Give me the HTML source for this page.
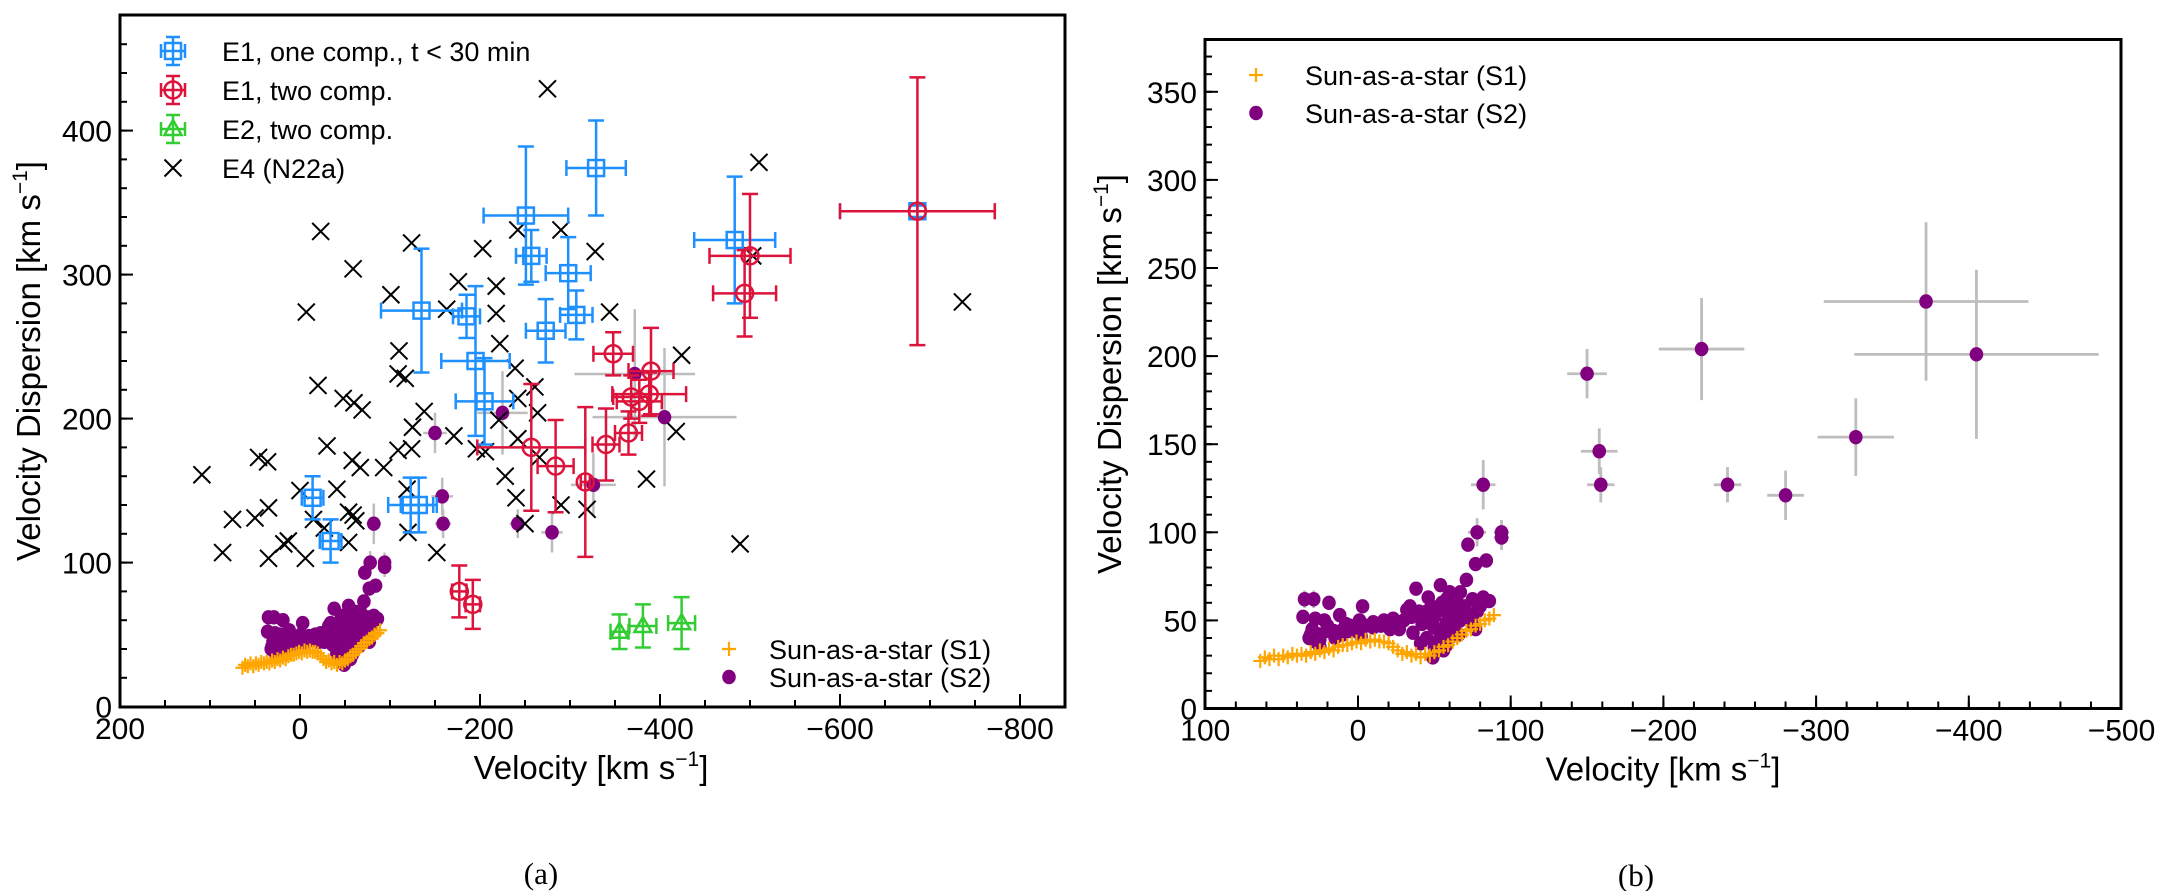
<!DOCTYPE html>
<html><head><meta charset="utf-8"><style>
html,body{margin:0;padding:0;background:#fff;}
svg{display:block;font-family:"Liberation Sans",sans-serif;}
</style></head><body>
<svg id="fig" width="2170" height="891" viewBox="0 0 2170 891" xmlns="http://www.w3.org/2000/svg">
<g id="pa"></g>
<g id="pb"></g>
</svg>
<script>
// ---- Panel (a) E1 one comp. (blue squares)
const blueV = [-329,-251,-257,-298,-135,-185,-307,-273,-195,-205,-14,-34,-123,-132,-483,-686];
const blueS = [374,341,313,301,275,271,272,261,240,212,145,115,140,140,324,344];
const blueXe = [33,47,17,25,45,15,18,22,38,32,12,12,25,20,45,86];
const blueYe = [33,48,18,25,43,15,17,22,52,30,15,15,19,19,44,4];
// ---- E1 two comp. (red circles)
const redV = [-686,-500,-494,-348,-390,-368,-388,-377,-365,-340,-257,-284,-317,-177,-192];
const redS = [344,313,287,245,233,215,217,212,190,182,180,167,156,80,71];
const redXe = [86,45,35,22,25,20,41,25,15,15,60,20,5,8,8];
const redYe = [93,43,30,15,30,15,15,15,15,25,44,32,52,18,17];
// ---- E2 two comp. (green triangles)
const greenV = [-355,-381,-424];
const greenS = [52,56,58];
const greenXe = [10,15,15];
const greenYe = [12,15,18];
// ---- E4 (N22a) crosses
const e4V = [-275,-23,-124,-59,-203,-242,-290,-328,-101,-7,-176,-218,-163,-218,-344,-222,-110,-239,-20,-48,-60,-69,-109,-117,-424,-242,-261,-264,-138,-125,-171,-221,-242,-418,-30,-109,-124,46,36,-58,-67,-93,-196,-206,-266,109,-41,0,-228,-385,-240,35,75,50,-54,-59,-62,-290,-319,-250,-120,-54,86,35,18,13,-6,-152,-489,-27,-119,-15,-510,-736,-503];
const e4S = [429,330,322,304,318,331,331,316,286,274,295,292,276,273,274,252,247,235,223,214,211,206,231,228,244,214,222,204,205,194,188,199,186,191,181,178,179,173,170,171,166,166,179,177,173,161,151,150,160,158,145,138,130,131,135,133,129,140,137,127,121,114,107,103,113,115,103,107,113,124,151,130,378,281,313];
// ---- Sun-as-a-star S2 (purple dots, grey error bars)
const s2V = [-150,-225,-372,-405,-158,-159,-242,-280,-326,-82,-78,-94,-94,-72,-77,-84,-71,35,29,19,36,12,-3,28,20,31,25,16,5,-1,-10,-17,-23,-27,-34,-38,-36,-46,-54,-60,-67,-75,-82,-86,-45,-54,-62,-49,-58,-67,-75,-77,-41,-49,-56,-32,-21,1,25,11,
  30,25,20,15,10,5,0,-5,-10,-15,-20,-25,-30,-35,-40,-42,-45,-48,-50,-52,-55,-58,-60,-63,-65,-68,-70,-72,-74,-78,-80,-45,-50,-52,-55,-60,-58,-62,-66,28,32,22,8,-2];
const s2S = [190,204,231,201,146,127,127,121,154,127,100,100,97,93,82,84,73,62,62,60,52,53,58,51,47,42,39,44,47,50,49,50,51,45,58,68,43,63,70,66,66,62,63,61,55,56,58,47,49,50,47,45,37,29,33,56,45,44,35,44,
  45,42,44,40,42,44,45,47,46,47,48,48,50,52,55,48,50,58,52,45,60,62,55,52,60,55,58,52,50,55,58,40,35,38,42,40,36,45,42,38,40,50,48,41];
const s2Xe = [13,28,67,80,12,9,9,12,25,8,6,5,5,3,3,3,3,4,4,3,3,3,3,3,3,3,3,3,3,3,3,3,3,3,3,3,3,3,3,3,3,3,3,3,3,3,3,3,3,3,3,3,3,3,3,3,3,3,3,3,
  3,3,3,3,3,3,3,3,3,3,3,3,3,3,3,3,3,3,3,3,3,3,3,3,3,3,3,3,3,3,3,3,3,3,3,3,3,3,3,3,3,3,3,3];
const s2Ye = [14,29,45,48,13,10,10,14,22,14,8,7,7,4,4,4,4,5,5,4,3,3,3,3,3,3,3,3,3,3,3,3,3,3,3,3,3,3,3,3,3,3,3,3,3,3,3,3,3,3,3,3,3,3,3,3,3,3,3,3,
  3,3,3,3,3,3,3,3,3,3,3,3,3,3,3,3,3,3,3,3,3,3,3,3,3,3,3,3,3,3,3,3,3,3,3,3,3,3,3,3,3,3,3,3];
// ---- Sun-as-a-star S1 (orange plus)
const s1V = [64,61,58,55,52,49,46,43,40,37,34,31,28,25,22,19,16,13,10,7,4,1,-2,-5,-8,-11,-14,-17,-20,-23,-26,-29,-32,-35,-38,-41,-44,-47,-50,-53,-56,-59,-62,-65,-68,-71,-74,-77,-80,-83,-86,-89];
const s1S = [27,29,28,30,28,30,29,31,30,31,30,32,31,33,32,34,33,35,36,36,37,38,37,39,38,39,38,38,37,35,33,31,32,30,31,29,31,30,32,33,35,36,38,40,42,44,45,47,48,50,51,53];
// ---- ticks
const aXMajor = [200,0,-200,-400,-600,-800];
const aYMajor = [0,100,200,300,400];
const bXMajor = [100,0,-100,-200,-300,-400,-500];
const bYMajor = [0,50,100,150,200,250,300,350];

const NS = 'http://www.w3.org/2000/svg';
function mk(parent, tag, attrs, name){
  const e = document.createElementNS(NS, tag);
  for (const k in attrs) e.setAttribute(k, attrs[k]);
  
  
  parent.appendChild(e);
  return e;
}
const C = {blue:'#1e90ff', red:'#dc143c', green:'#32cd32', orange:'#ffa500', purple:'#800080', grey:'#bdbdbd'};

function errBar(g, x, y, dx, dy, col, cap, w){
  mk(g,'line',{x1:x-dx,y1:y,x2:x+dx,y2:y,stroke:col,'stroke-width':w},'x-error-bar');
  mk(g,'line',{x1:x,y1:y-dy,x2:x,y2:y+dy,stroke:col,'stroke-width':w},'y-error-bar');
  if (cap){
    mk(g,'line',{x1:x-dx,y1:y-cap,x2:x-dx,y2:y+cap,stroke:col,'stroke-width':w},'error-cap');
    mk(g,'line',{x1:x+dx,y1:y-cap,x2:x+dx,y2:y+cap,stroke:col,'stroke-width':w},'error-cap');
    mk(g,'line',{x1:x-cap,y1:y-dy,x2:x+cap,y2:y-dy,stroke:col,'stroke-width':w},'error-cap');
    mk(g,'line',{x1:x-cap,y1:y+dy,x2:x+cap,y2:y+dy,stroke:col,'stroke-width':w},'error-cap');
  }
}
function square(g,x,y,col){ mk(g,'rect',{x:x-8,y:y-8,width:16,height:16,fill:'none',stroke:col,'stroke-width':2.5},'square-marker'); }
function circ(g,x,y,col){ mk(g,'circle',{cx:x,cy:y,r:8.5,fill:'none',stroke:col,'stroke-width':2.5},'circle-marker'); }
function tri(g,x,y,col){ mk(g,'polygon',{points:`${x},${y-9} ${x-8.5},${y+6} ${x+8.5},${y+6}`,fill:'none',stroke:col,'stroke-width':2.5},'triangle-marker'); }
function cross(g,x,y){ const s=8.5;
  mk(g,'path',{d:`M${x-s},${y-s}L${x+s},${y+s}M${x-s},${y+s}L${x+s},${y-s}`,stroke:'#000','stroke-width':2,fill:'none'},'x-marker'); }
function plus(g,x,y){ const s=7;
  mk(g,'path',{d:`M${x-s},${y}L${x+s},${y}M${x},${y-s}L${x},${y+s}`,stroke:C.orange,'stroke-width':2.2,fill:'none'},'plus-marker'); }
function dot(g,x,y){ mk(g,'ellipse',{cx:x,cy:y,rx:6.8,ry:7.2,fill:C.purple},'dot-marker'); }

function axes(g, L, R, T, B, xs, ys, xMaj, xMin, yMaj, yMin, xlab, xlabX, ylabX){
  xMin.forEach(v=>{ const x=xs(v); if(x>L+1&&x<R-1) mk(g,'line',{x1:x,y1:B,x2:x,y2:B-7,stroke:'#000','stroke-width':2},'x-minor-tick'); });
  yMin.forEach(v=>{ const y=ys(v); if(y>T+1&&y<B-1) mk(g,'line',{x1:L,y1:y,x2:L+7,y2:y,stroke:'#000','stroke-width':2},'y-minor-tick'); });
  xMaj.forEach(v=>{ const x=xs(v);
    mk(g,'line',{x1:x,y1:B,x2:x,y2:B-13,stroke:'#000','stroke-width':2},'x-major-tick');
    const t=mk(g,'text',{x:x,y:B+32,'font-size':30,'text-anchor':'middle'},'x-tick-label'); t.textContent=(v<0?'\u2212'+(-v):String(v)); });
  yMaj.forEach(v=>{ const y=ys(v);
    mk(g,'line',{x1:L,y1:y,x2:L+13,y2:y,stroke:'#000','stroke-width':2},'y-major-tick');
    const t=mk(g,'text',{x:L-8,y:y+11,'font-size':30,'text-anchor':'end'},'y-tick-label'); t.textContent=String(v); });
  mk(g,'rect',{x:L,y:T,width:R-L,height:B-T,fill:'none',stroke:'#000','stroke-width':3},'plot-frame');
  const xl=mk(g,'text',{x:xlabX,y:B+72,'font-size':33,'text-anchor':'middle'},'x-axis-title');
  xl.innerHTML='Velocity [km s<tspan dy="-13" font-size="21">\u22121</tspan><tspan dy="13">]</tspan>';
  const cy=(T+B)/2;
  const yl=mk(g,'text',{x:ylabX,y:cy,'font-size':33,'text-anchor':'middle',transform:`rotate(-90 ${ylabX} ${cy})`},'y-axis-title');
  yl.innerHTML='Velocity Dispersion [km s<tspan dy="-13" font-size="21">\u22121</tspan><tspan dy="13">]</tspan>';
}
function rng(a,b,s){const r=[];for(let v=a;v<=b+1e-9;v+=s)r.push(Math.round(v*100)/100);return r;}

// ===== Panel A =====
(function(){
  const g=document.getElementById('pa');
  const L=120,R=1065,T=15,B=707;
  const xs=v=>300-0.9*v, ys=s=>706.6-1.44*s;
  const data=mk(g,'g',{},'panel-a-data');
  s2V.forEach((v,i)=>errBar(data,xs(v),ys(s2S[i]),s2Xe[i]*0.9,s2Ye[i]*1.44,C.grey,0,2.5));
  s2V.forEach((v,i)=>dot(data,xs(v),ys(s2S[i])));
  s1V.forEach((v,i)=>plus(data,xs(v),ys(s1S[i])));
  e4V.forEach((v,i)=>cross(data,xs(v),ys(e4S[i])));
  blueV.forEach((v,i)=>{errBar(data,xs(v),ys(blueS[i]),blueXe[i]*0.9,blueYe[i]*1.44,C.blue,8,2.5);square(data,xs(v),ys(blueS[i]),C.blue);});
  redV.forEach((v,i)=>{errBar(data,xs(v),ys(redS[i]),redXe[i]*0.9,redYe[i]*1.44,C.red,8,2.5);circ(data,xs(v),ys(redS[i]),C.red);});
  greenV.forEach((v,i)=>{errBar(data,xs(v),ys(greenS[i]),greenXe[i]*0.9,greenYe[i]*1.44,C.green,8,2.5);tri(data,xs(v),ys(greenS[i]),C.green);});
  axes(g,L,R,T,B,xs,ys,aXMajor,rng(-850,200,50),aYMajor,rng(0,480,20),'',591,40);
  const lg=mk(g,'g',{},'legend-a');
  const lx=173, tx=222, rows=[51,90,129,168];
  errBar(lg,lx,rows[0],12,14,C.blue,7,2.5); square(lg,lx,rows[0],C.blue);
  errBar(lg,lx,rows[1],12,14,C.red,7,2.5); circ(lg,lx,rows[1],C.red);
  errBar(lg,lx,rows[2],12,14,C.green,7,2.5); tri(lg,lx,rows[2],C.green);
  cross(lg,lx,rows[3]);
  const labs=['E1, one comp., t < 30 min','E1, two comp.','E2, two comp.','E4 (N22a)'];
  labs.forEach((s,i)=>{const t=mk(lg,'text',{x:tx,y:rows[i]+10,'font-size':27},'legend-label');t.textContent=s;});
  const lg2=mk(g,'g',{},'legend-a-sun');
  plus(lg2,729,649); dot(lg2,729,677);
  const t1=mk(lg2,'text',{x:769,y:659,'font-size':27},'legend-label'); t1.textContent='Sun-as-a-star (S1)';
  const t2=mk(lg2,'text',{x:769,y:687,'font-size':27},'legend-label'); t2.textContent='Sun-as-a-star (S2)';
  const pl=mk(g,'text',{x:541,y:884,'font-size':31,'text-anchor':'middle','font-family':'Liberation Serif, serif'},'panel-a-caption'); pl.textContent='(a)';
})();

// ===== Panel B =====
(function(){
  const g=document.getElementById('pb');
  const L=1205,R=2121,T=39.5,B=708.5;
  const xs=v=>1358-1.527*v, ys=s=>708.5-1.762*s;
  const data=mk(g,'g',{},'panel-b-data');
  s2V.forEach((v,i)=>errBar(data,xs(v),ys(s2S[i]),s2Xe[i]*1.527,s2Ye[i]*1.762,C.grey,0,2.8));
  s2V.forEach((v,i)=>dot(data,xs(v),ys(s2S[i])));
  s1V.forEach((v,i)=>plus(data,xs(v),ys(s1S[i])));
  axes(g,L,R,T,B,xs,ys,bXMajor,rng(-500,100,20),bYMajor,rng(0,380,10),'',1663,1121);
  const lg=mk(g,'g',{},'legend-b');
  plus(lg,1256,75); dot(lg,1256,113);
  const t1=mk(lg,'text',{x:1305,y:85,'font-size':27},'legend-label'); t1.textContent='Sun-as-a-star (S1)';
  const t2=mk(lg,'text',{x:1305,y:123,'font-size':27},'legend-label'); t2.textContent='Sun-as-a-star (S2)';
  const pl=mk(g,'text',{x:1636,y:886,'font-size':31,'text-anchor':'middle','font-family':'Liberation Serif, serif'},'panel-b-caption'); pl.textContent='(b)';
})();
</script>
</body></html>
